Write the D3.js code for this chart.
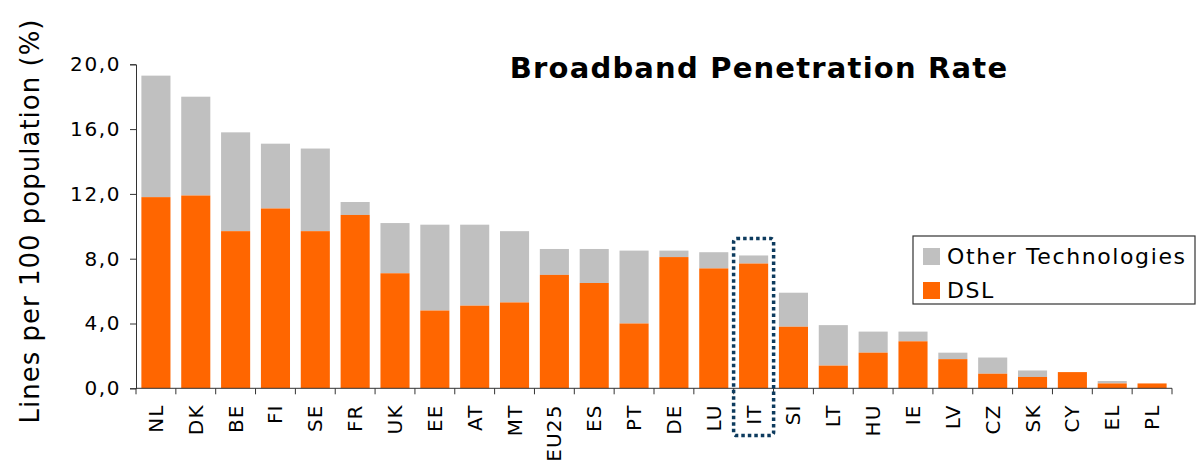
<!DOCTYPE html>
<html>
<head>
<meta charset="utf-8">
<script src="https://cdn.jsdelivr.net/npm/d3@7"></script>
<style>
  body { margin: 0; background: #fff; }
  text { font-family: "DejaVu Sans", Verdana, sans-serif; fill: #000; }
</style>
</head>
<body>
<svg width="1196" height="461"></svg>
<script>
const countries = ['NL','DK','BE','FI','SE','FR','UK','EE','AT','MT','EU25','ES','PT','DE','LU','IT','SI','LT','HU','IE','LV','CZ','SK','CY','EL','PL'];
const dsl   = [11.8,11.9,9.7,11.1,9.7,10.7,7.1,4.8,5.1,5.3,7.0,6.5,4.0,8.1,7.4,7.7,3.8,1.4,2.2,2.9,1.8,0.9,0.7,1.0,0.3,0.3];
const total = [19.3,18.0,15.8,15.1,14.8,11.5,10.2,10.1,10.1,9.7,8.6,8.6,8.5,8.5,8.4,8.2,5.9,3.9,3.5,3.5,2.2,1.9,1.1,1.0,0.45,0.3];
const yTicks = [0,4,8,12,16,20];
const highlight = 'IT';

const svg = d3.select('svg');
const plotLeft = 136, plotRight = 1172, plotTop = 64.3, plotBottom = 388.3;

const x = d3.scaleBand()
  .domain(countries)
  .range([plotLeft, plotRight])
  .paddingInner(0.27)
  .paddingOuter(0.135);

const y = d3.scaleLinear()
  .domain([0, 20])
  .range([plotBottom, plotTop]);

const grey = '#c0c0c0';
const orange = '#ff6600';

// bars: other technologies on top of DSL
const bars = svg.append('g');
bars.selectAll('.other')
  .data(countries)
  .enter().append('rect')
  .attr('x', d => x(d))
  .attr('width', x.bandwidth())
  .attr('y', (d, i) => y(total[i]))
  .attr('height', (d, i) => y(dsl[i]) - y(total[i]))
  .attr('fill', grey);

bars.selectAll('.dsl')
  .data(countries)
  .enter().append('rect')
  .attr('x', d => x(d))
  .attr('width', x.bandwidth())
  .attr('y', (d, i) => y(dsl[i]))
  .attr('height', (d, i) => plotBottom - y(dsl[i]))
  .attr('fill', orange);

// y axis
const yAxis = svg.append('g')
  .attr('transform', `translate(${plotLeft},0)`)
  .call(d3.axisLeft(y).tickValues(yTicks).tickSize(6).tickPadding(9)
    .tickFormat(d => d3.format('.1f')(d).replace('.', ',')));
yAxis.select('.domain').attr('stroke', '#333');
yAxis.selectAll('.tick line').attr('stroke', '#333');
yAxis.selectAll('text').attr('font-size', 20).attr('letter-spacing', 1.6).attr('fill', '#111');

// x axis: ticks at band boundaries
const boundaries = d3.range(countries.length + 1).map(i => plotLeft + i * (plotRight - plotLeft) / countries.length);
svg.append('line')
  .attr('x1', plotLeft).attr('x2', plotRight)
  .attr('y1', plotBottom).attr('y2', plotBottom)
  .attr('stroke', '#333');
svg.selectAll('.xtick')
  .data(boundaries)
  .enter().append('line')
  .attr('x1', d => d).attr('x2', d => d)
  .attr('y1', plotBottom).attr('y2', plotBottom + 6)
  .attr('stroke', '#333');

svg.selectAll('.xlabel')
  .data(countries)
  .enter().append('text')
  .attr('transform', d => `translate(${x(d) + x.bandwidth() / 2 + 7},${plotBottom + 16}) rotate(-90)`)
  .attr('text-anchor', 'end')
  .attr('font-size', 20)
  .attr('letter-spacing', 1.2)
  .attr('fill', '#111')
  .text(d => d);

// highlight box around IT
const hx = x(highlight) + x.bandwidth() / 2;
svg.append('rect')
  .attr('x', hx - 20)
  .attr('y', 238.5)
  .attr('width', 40)
  .attr('height', 197)
  .attr('rx', 3)
  .attr('fill', 'none')
  .attr('stroke', '#0d3b5e')
  .attr('stroke-width', 3.5)
  .attr('stroke-dasharray', '3.5 3');

// y label
svg.append('text')
  .attr('transform', `translate(39,221) rotate(-90)`)
  .attr('text-anchor', 'middle')
  .attr('font-size', 26)
  .attr('letter-spacing', 1)
  .attr('fill', '#111')
  .text('Lines per 100 population (%)');

// title
svg.append('text')
  .attr('x', 759)
  .attr('y', 78)
  .attr('text-anchor', 'middle')
  .attr('font-size', 29)
  .attr('font-weight', 'bold')
  .attr('letter-spacing', 1.2)
  .text('Broadband Penetration Rate');

// legend
const legend = svg.append('g').attr('transform', 'translate(913,236)');
legend.append('rect')
  .attr('width', 282).attr('height', 68)
  .attr('fill', '#fff').attr('stroke', '#333').attr('stroke-width', 1.2);
const legendItems = [['Other Technologies', grey], ['DSL', orange]];
legendItems.forEach(([label, color], i) => {
  legend.append('rect')
    .attr('x', 10).attr('y', 12 + i * 34)
    .attr('width', 17).attr('height', 17)
    .attr('fill', color);
  legend.append('text')
    .attr('x', 34).attr('y', 28 + i * 34)
    .attr('font-size', 22)
    .attr('letter-spacing', 1.6)
    .attr('fill', '#111')
    .text(label);
});
</script>
</body>
</html>
